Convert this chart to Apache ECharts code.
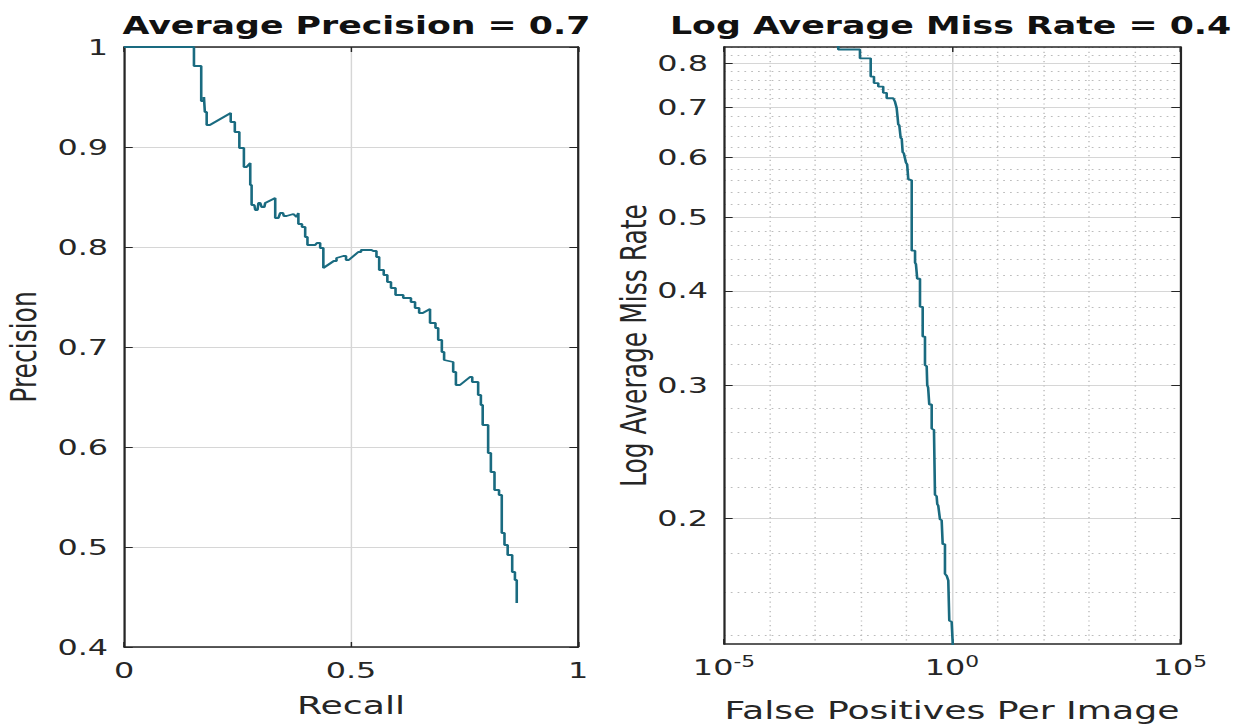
<!DOCTYPE html>
<html>
<head>
<meta charset="utf-8">
<title>Average Precision / Log Average Miss Rate</title>
<script src="https://cdn.jsdelivr.net/npm/echarts@6.0.0/dist/echarts.min.js"></script>
<style>
  html, body { margin: 0; padding: 0; background: #fff; overflow: hidden; }
  /* the reference figure is a horizontally stretched bitmap: draw it 864px wide
     and widen it to the 1252px window */
  #chart { width: 864px; height: 728px; transform: scaleX(1.449074); transform-origin: 0 0; }
</style>
</head>
<body>
<div id="chart"></div>
<script>
// Precision / recall curve
const recall = [
    0.000, 0.154, 0.154, 0.170, 0.170, 0.176, 0.176, 0.178, 0.178, 0.182,
    0.182, 0.189, 0.235, 0.235, 0.244, 0.244, 0.254, 0.254, 0.264, 0.264,
    0.270, 0.278, 0.278, 0.281, 0.281, 0.287, 0.289, 0.294, 0.296, 0.300,
    0.303, 0.309, 0.311, 0.333, 0.333, 0.340, 0.344, 0.350, 0.352, 0.358,
    0.373, 0.380, 0.384, 0.384, 0.392, 0.392, 0.399, 0.399, 0.404, 0.404,
    0.421, 0.425, 0.432, 0.432, 0.439, 0.439, 0.462, 0.468, 0.468, 0.483,
    0.489, 0.489, 0.495, 0.516, 0.522, 0.522, 0.545, 0.549, 0.556, 0.556,
    0.562, 0.562, 0.572, 0.572, 0.580, 0.580, 0.588, 0.588, 0.598, 0.598,
    0.615, 0.615, 0.632, 0.632, 0.641, 0.641, 0.650, 0.650, 0.658, 0.674,
    0.674, 0.686, 0.686, 0.692, 0.692, 0.700, 0.700, 0.705, 0.705, 0.725,
    0.725, 0.731, 0.731, 0.740, 0.762, 0.767, 0.767, 0.780, 0.780, 0.786,
    0.786, 0.790, 0.790, 0.802, 0.802, 0.808, 0.808, 0.816, 0.816, 0.826,
    0.826, 0.832, 0.832, 0.838, 0.838, 0.845, 0.845, 0.855, 0.855, 0.861,
    0.861, 0.865, 0.865
];
const precision = [
    1.000, 1.000, 0.981, 0.981, 0.946, 0.946, 0.950, 0.950, 0.935, 0.935,
    0.922, 0.922, 0.934, 0.925, 0.925, 0.915, 0.915, 0.899, 0.899, 0.880,
    0.880, 0.884, 0.862, 0.862, 0.842, 0.842, 0.837, 0.837, 0.844, 0.844,
    0.840, 0.840, 0.844, 0.849, 0.829, 0.829, 0.834, 0.834, 0.831, 0.831,
    0.833, 0.830, 0.834, 0.823, 0.823, 0.820, 0.820, 0.810, 0.810, 0.802,
    0.802, 0.804, 0.804, 0.799, 0.799, 0.779, 0.786, 0.786, 0.789, 0.791,
    0.791, 0.787, 0.787, 0.795, 0.795, 0.797, 0.797, 0.796, 0.796, 0.790,
    0.790, 0.777, 0.777, 0.772, 0.772, 0.765, 0.765, 0.759, 0.759, 0.752,
    0.752, 0.749, 0.749, 0.745, 0.745, 0.739, 0.739, 0.734, 0.734, 0.738,
    0.724, 0.724, 0.719, 0.719, 0.707, 0.707, 0.695, 0.695, 0.687, 0.685,
    0.675, 0.675, 0.662, 0.662, 0.670, 0.670, 0.665, 0.665, 0.652, 0.652,
    0.642, 0.642, 0.622, 0.622, 0.594, 0.594, 0.575, 0.575, 0.557, 0.557,
    0.552, 0.552, 0.514, 0.514, 0.502, 0.502, 0.492, 0.492, 0.475, 0.475,
    0.467, 0.467, 0.444
];

// Miss rate / false positives per image curve
const fppi = [
    0.00321, 0.00321, 0.0096, 0.0096, 0.0165, 0.0165, 0.0195, 0.0195, 0.0242, 0.0242,
    0.0311, 0.0311, 0.0370, 0.0370, 0.0516, 0.0560, 0.0612, 0.0640, 0.0664, 0.0700,
    0.0750, 0.0790, 0.0830, 0.0880, 0.0980, 0.1040, 0.1100, 0.1310, 0.1310, 0.1550,
    0.1550, 0.1620, 0.1730, 0.1990, 0.1990, 0.2280, 0.2280, 0.2560, 0.2560, 0.2790,
    0.2870, 0.3000, 0.3180, 0.3590, 0.3590, 0.4030, 0.4240, 0.4610, 0.4760, 0.5000,
    0.5460, 0.5940, 0.6260, 0.7020, 0.7020, 0.7650, 0.8300, 0.8730, 0.9840, 1.0350,
    1.0500
];
const missRate = [
    0.900, 0.834, 0.834, 0.812, 0.812, 0.768, 0.768, 0.753, 0.753, 0.745,
    0.745, 0.731, 0.731, 0.719, 0.719, 0.712, 0.698, 0.680, 0.664, 0.662,
    0.637, 0.636, 0.610, 0.608, 0.591, 0.588, 0.562, 0.560, 0.452, 0.452,
    0.436, 0.434, 0.415, 0.415, 0.381, 0.381, 0.348, 0.348, 0.319, 0.318,
    0.300, 0.298, 0.283, 0.283, 0.263, 0.262, 0.215, 0.214, 0.209, 0.208,
    0.1995, 0.199, 0.185, 0.185, 0.169, 0.168, 0.1656, 0.1466, 0.146, 0.1373,
    0.130
];

// Tick values of the log panel
const fppiTicks = [1e-5, 1, 1e5];
const fppiMinorTicks = [1e-4, 1e-3, 1e-2, 1e-1, 1e1, 1e2, 1e3, 1e4];
const missTicks = [0.2, 0.3, 0.4, 0.5, 0.6, 0.7, 0.8];
const missMinorTicks = [
    0.14, 0.16, 0.18, 0.22, 0.24, 0.26, 0.28, 0.32, 0.34, 0.36, 0.38,
    0.42, 0.44, 0.46, 0.48, 0.52, 0.54, 0.56, 0.58, 0.62, 0.64, 0.66, 0.68,
    0.72, 0.74, 0.76, 0.78, 0.82, 0.84
];
const missRange = [0.1365, 0.8404];

const FONT = 'DejaVu Sans';
const INK = '#262626';
const GRID = '#d6d6d6';
const MINOR = '#bcbcbc';
const LINE = '#1a6b80';

// a frame axis: dark line with inward ticks, no labels
function frameAxis(extra) {
    return Object.assign({
        axisLine: { show: true, onZero: false, lineStyle: { color: INK, width: 1.5 } },
        axisTick: { show: true, inside: true, length: 5, lineStyle: { color: INK } },
        axisLabel: { show: false },
        splitLine: { show: false }
    }, extra);
}

// an invisible axis that only draws the dotted minor grid
function minorAxis(extra, ticks) {
    return Object.assign({
        axisLine: { show: false },
        axisTick: { show: false, customValues: ticks },
        axisLabel: { show: false },
        splitLine: { show: true, lineStyle: { color: MINOR, width: 1, type: [1.2, 3.5] } }
    }, extra);
}

let labelStyle = { margin: 12, fontFamily: FONT, fontSize: 22, color: INK };
let nameStyle = { fontFamily: FONT, fontSize: 25, color: INK };

let option = {
    backgroundColor: '#ffffff',
    animation: false,
    title: [
        {
            text: 'Average Precision = 0.7',
            left: 246, top: 14, padding: 0, textAlign: 'center',
            textStyle: { fontFamily: FONT, fontSize: 24, fontWeight: 'bold', color: '#111' }
        },
        {
            text: 'Log Average Miss Rate = 0.4',
            left: 656, top: 14, padding: 0, textAlign: 'center',
            textStyle: { fontFamily: FONT, fontSize: 24, fontWeight: 'bold', color: '#111' }
        }
    ],
    grid: [
        { left: 85.6, top: 47, width: 313.3, height: 600 },
        { left: 499.6, top: 47, width: 314.7, height: 600 }
    ],
    xAxis: [
        // 0: recall, bottom
        frameAxis({
            gridIndex: 0, type: 'value', position: 'bottom', min: 0, max: 1, interval: 0.5,
            name: 'Recall', nameLocation: 'middle', nameGap: 46, nameTextStyle: nameStyle,
            axisLabel: labelStyle,
            splitLine: { show: true, lineStyle: { color: GRID, width: 1 } }
        }),
        // 1: recall, top frame
        frameAxis({ gridIndex: 0, type: 'value', position: 'top', min: 0, max: 1, interval: 0.5 }),
        // 2: fppi, bottom
        frameAxis({
            gridIndex: 1, type: 'log', logBase: 10, position: 'bottom', min: 1e-5, max: 1e5,
            name: 'False Positives Per Image', nameLocation: 'middle', nameGap: 54, nameTextStyle: nameStyle,
            axisTick: { show: true, inside: true, length: 5, customValues: fppiTicks, lineStyle: { color: INK } },
            axisLabel: {
                margin: 10, customValues: fppiTicks, color: INK,
                formatter: v => '{b|10}{s|' + Math.round(Math.log10(v)) + '}',
                rich: {
                    b: { fontFamily: FONT, fontSize: 22, color: INK, lineHeight: 26 },
                    s: { fontFamily: FONT, fontSize: 15, color: INK, verticalAlign: 'top', lineHeight: 15 }
                }
            },
            splitLine: { show: true, lineStyle: { color: GRID, width: 1 } }
        }),
        // 3: fppi, top frame
        frameAxis({
            gridIndex: 1, type: 'log', logBase: 10, position: 'top', min: 1e-5, max: 1e5,
            axisTick: { show: true, inside: true, length: 5, customValues: fppiTicks, lineStyle: { color: INK } }
        }),
        // 4: fppi minor grid
        minorAxis({ gridIndex: 1, type: 'log', logBase: 10, position: 'bottom', min: 1e-5, max: 1e5 }, fppiMinorTicks)
    ],
    yAxis: [
        // 0: precision, left
        frameAxis({
            gridIndex: 0, type: 'value', position: 'left', min: 0.4, max: 1, interval: 0.1,
            name: 'Precision', nameLocation: 'middle', nameGap: 57, nameTextStyle: nameStyle,
            axisTick: { show: true, inside: true, length: 6, lineStyle: { color: INK } },
            axisLabel: Object.assign({}, labelStyle, { margin: 11 }),
            splitLine: { show: true, lineStyle: { color: GRID, width: 1 } }
        }),
        // 1: precision, right frame
        frameAxis({
            gridIndex: 0, type: 'value', position: 'right', min: 0.4, max: 1, interval: 0.1,
            axisTick: { show: true, inside: true, length: 6, lineStyle: { color: INK } }
        }),
        // 2: miss rate, left
        frameAxis({
            gridIndex: 1, type: 'log', logBase: 10, position: 'left', min: missRange[0], max: missRange[1],
            name: 'Log Average Miss Rate', nameLocation: 'middle', nameGap: 49, nameTextStyle: nameStyle,
            axisTick: { show: true, inside: true, length: 6, customValues: missTicks, lineStyle: { color: INK } },
            axisLabel: Object.assign({}, labelStyle, {
                margin: 11, customValues: missTicks, formatter: v => v.toFixed(1)
            }),
            splitLine: { show: true, lineStyle: { color: GRID, width: 1 } }
        }),
        // 3: miss rate, right frame
        frameAxis({
            gridIndex: 1, type: 'log', logBase: 10, position: 'right', min: missRange[0], max: missRange[1],
            axisTick: { show: true, inside: true, length: 6, customValues: missTicks, lineStyle: { color: INK } }
        }),
        // 4: miss rate minor grid
        minorAxis({ gridIndex: 1, type: 'log', logBase: 10, position: 'left', min: missRange[0], max: missRange[1] }, missMinorTicks)
    ],
    series: [
        {
            type: 'line', xAxisIndex: 0, yAxisIndex: 0,
            data: recall.map((r, i) => [r, precision[i]]),
            symbol: 'none', showSymbol: false, silent: true, clip: true,
            lineStyle: { color: LINE, width: 1.8 }
        },
        {
            type: 'line', xAxisIndex: 2, yAxisIndex: 2,
            data: fppi.map((f, i) => [f, missRate[i]]),
            symbol: 'none', showSymbol: false, silent: true, clip: true,
            lineStyle: { color: LINE, width: 1.8 }
        }
    ]
};

let chart = echarts.init(document.getElementById('chart'), null, { renderer: 'svg' });
chart.setOption(option);
</script>
</body>
</html>
